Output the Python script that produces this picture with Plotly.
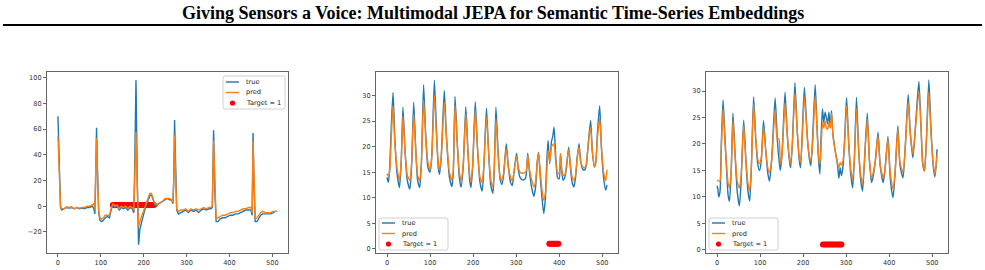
import plotly.graph_objects as go

TITLE = "Giving Sensors a Voice: Multimodal JEPA for Semantic Time-Series Embeddings"

# ---------------- panel 1 (ECG-like) ----------------
ecg_x = [0, 3, 6, 9, 14, 20, 26, 32, 38, 44, 50, 56, 62, 68, 74, 80, 84, 86, 88, 90, 92, 95, 98, 102,
         106, 110, 115, 120, 124, 128, 133, 138, 143, 148, 153, 158, 163, 168, 173, 177, 179, 182, 185,
         188, 191, 195, 200, 205, 210, 214, 218, 222, 226, 230, 235, 240, 245, 250, 255, 260, 265, 268,
         270, 272, 274, 277, 281, 286, 292, 298, 304, 310, 316, 322, 328, 334, 340, 346, 352, 357, 360,
         363, 366, 369, 373, 378, 384, 390, 396, 402, 408, 414, 420, 426, 432, 438, 444, 450, 453, 455,
         457, 460, 464, 468, 473, 478, 484, 490, 496, 502, 507, 511]
ecg_true = [70, 20, -1, -3, -2, -1, -1.5, -1, -2, -1, -2, -1.5, -2, -1, -1, 0, -2, -6, 20, 61, 30, -5, -11, -12,
            -11, -9, -8, -9, -3, 1, -1, 0, -3, -1, -2, -1, -3, -1, -2, -5, 30, 98, 20,
            -30, -18, -12, -6, 0, 5, 8, 9, 5, 1, 0, 2, 3, 4, 5, 6, 5, 5, 2,
            20, 67, 30, -3, -6, -5, -4, -3, -5, -3, -4, -3, -5, -3, -2, -3, -2, -2, -1,
            59, 10, -12, -12, -10, -9, -9, -8, -7, -7, -6, -6, -5, -4, -3, -3, -3, -7, 57,
            20, -12, -12, -10, -7, -6, -6, -6, -6, -5, -4, -4]
ecg_pred = [54, 18, 0, -2, -2, -0.5, -1, -0.5, -2, -1, -1.5, -1, -1, 0, 0, 1, 2, -2, 18, 53, 28, -3, -9, -10,
            -9, -7, -7, -7, -2, 2, 0, 1, -2, 0, -1, 0, -2, 0, -1, -3, 20, 58, 15,
            -16, -12, -8, -3, 2, 7, 10, 10, 6, 2, 1, 2, 3, 4, 6, 6, 6, 5, 3,
            18, 55, 25, -2, -4, -3, -3, -2, -4, -2, -3, -2, -3, -2, -1, -2, -1, -1, 0,
            51, 8, -10, -9, -8, -7, -7, -6, -5, -5, -4, -4, -3, -2, -2, -1, -1, -5, 51,
            15, -10, -9, -7, -5, -4, -5, -5, -5, -4, -4, -4]
ecg_target_x = [128, 132, 136, 140, 144, 148, 152, 156, 160, 164, 168, 172, 176, 180, 184, 188, 192,
                196, 200, 204, 208, 212, 216, 220, 224]

# ---------------- panel 2 ----------------
p2_x = [0, 3, 6, 10, 14, 18, 23, 29, 33, 37, 42, 47, 53, 57, 62, 67, 71, 76, 80, 85, 90, 95, 100, 104,
        110, 115, 119, 122, 126, 133, 138, 145, 151, 154, 158, 163, 168, 172, 177, 183, 188, 192, 195,
        199, 205, 210, 216, 221, 225, 231, 236, 241, 246, 249, 253, 258, 263, 267, 271, 277, 282, 287,
        291, 295, 301, 305, 309, 315, 321, 324, 327, 331, 336, 341, 345, 349, 352, 356, 360, 364, 368,
        371, 374, 378, 382, 385, 388, 392, 396, 400, 403, 406, 409, 413, 417, 422, 426, 430, 434, 438,
        442, 446, 450, 455, 460, 463, 468, 473, 477, 482, 485, 489, 494, 498, 503, 508, 511]
p2_true = [14, 13, 15.5, 24, 30.6, 22, 15, 12, 17, 27.7, 19, 13.5, 11.7, 16, 28.7, 19, 13.5, 12, 17, 32.1, 22, 16, 15, 18,
           33, 23, 16, 14.6, 18, 31, 22, 14, 12.2, 15, 29.8, 21, 14, 12.1, 16, 27.8, 19, 13.5, 12,
           16, 28.8, 20, 13, 11.3, 16, 27.5, 19, 12.5, 10.9, 15, 27.7, 19, 13.5, 12.6, 14.5, 20.6, 16, 13,
           12.4, 15, 18.7, 15.5, 14, 13.5, 13.7, 15, 18.7, 15, 12, 10.3, 12, 17, 18.9, 14, 10, 6.9, 10,
           17, 21.2, 16.7, 21, 22, 23.8, 18, 14, 13.7, 18.6, 15, 13.4, 14, 16, 19.9, 16, 13, 12.1, 14,
           18, 20.6, 17, 15.5, 15.5, 16.5, 21, 25.1, 19, 16, 17, 23, 28, 20, 14, 11.5, 12.5]
p2_pred = [14.7, 14.2, 15, 22, 28, 21, 16, 13.4, 17, 25.9, 19, 14.5, 13.4, 16.5, 26.4, 19, 14.5, 13.3, 17, 29.1, 22, 17, 15.5, 18,
           30, 22, 17, 15.4, 18, 28.7, 22, 15, 13.4, 15.5, 28, 21, 15, 13.4, 16.5, 26.4, 19, 14.5, 13,
           16.5, 27.1, 20, 14, 13, 16.5, 25.8, 19, 13.5, 12.1, 15.5, 25.4, 18.5, 14, 13.4, 15, 19.6, 16, 14,
           13.3, 15, 18.1, 16, 15, 14.8, 15, 15.5, 18.3, 15.5, 13.5, 12.1, 13, 17, 18.7, 15, 11.5, 9.5, 11,
           15, 19.3, 17, 20, 20.3, 20.6, 17, 15, 14.7, 18.6, 15.5, 14.4, 14.5, 16.5, 19.4, 16.5, 14, 13.4, 14.5,
           18, 19.9, 17, 16, 15.9, 16.5, 21, 23.8, 19, 16, 17, 22, 25.5, 20, 15, 13.3, 15.5]
p2_target_x = [377, 380, 383, 386, 389, 392, 395, 398]

# ---------------- panel 3 ----------------
p3_x = [0, 2, 4, 7, 10, 14, 18, 23, 26, 29, 33, 37, 42, 47, 52, 56, 62, 67, 72, 76, 80, 85, 90, 95,
        99, 103, 108, 113, 118, 122, 127, 135, 140, 144, 147, 151, 158, 163, 168, 171, 175, 181, 186,
        191, 194, 198, 203, 210, 215, 218, 222, 228, 232, 236, 239, 242, 245, 248, 251, 254, 257, 260,
        263, 266, 269, 272, 276, 280, 283, 286, 289, 293, 297, 301, 306, 311, 315, 319, 324, 329, 334,
        338, 342, 349, 354, 359, 363, 368, 374, 379, 386, 390, 397, 402, 406, 409, 414, 420, 425, 432,
        437, 444, 449, 455, 459, 464, 469, 474, 478, 482, 486, 492, 497, 502, 506, 509, 511]
p3_true = [12.1, 11.5, 10, 11, 20, 28.3, 22, 14, 10.2, 9.2, 15, 25.8, 18, 11, 8.3, 13, 24.5, 17, 11, 9.2, 16, 28.9, 21, 16,
           15, 17, 24.4, 19, 14.5, 13, 17, 28.7, 21, 17, 15, 18, 29.8, 22, 17, 15.5, 20, 31.6, 23,
           17, 15.5, 22, 30.7, 21, 17, 15.9, 21, 31.2, 24, 17, 14.3, 22, 26.6, 24, 26, 25, 23.8, 26,
           23.1, 26.3, 22, 20, 18, 16, 13.5, 15.5, 14, 16, 22, 28.8, 20, 14, 11.7, 17, 28.8, 19, 13,
           11.1, 16, 25.8, 17, 12.7, 14, 17, 22.2, 16, 12.7, 15, 21.4, 14, 11, 9.9, 15, 23.4, 16, 13.6,
           19, 29.3, 22, 17.4, 21, 27, 31.8, 23, 16, 14.9, 20, 32.1, 23, 16, 13.8, 16, 19]
p3_pred = [13.1, 13.1, 13, 13, 19, 26.6, 21, 15, 12.5, 11.7, 15, 24.4, 18, 13, 11.7, 14, 23.4, 17, 12.5, 11.1, 16, 27.5, 21, 17,
           16.3, 17.5, 23.1, 19, 15.5, 14.6, 17, 26.4, 21, 21, 16.2, 18, 27.7, 22, 17.5, 16.2, 20, 29.6, 23,
           17.5, 16.5, 21, 28.9, 21, 17.5, 16.8, 20, 29.1, 23.5, 17.5, 16.2, 20, 24, 23, 24.4, 23, 22.8, 24,
           23, 25.8, 22, 20, 18, 16.5, 15.5, 16.5, 16, 17, 21, 27.2, 20, 15, 13.3, 17, 26.6, 19, 14,
           12.4, 16, 24.7, 17, 13.6, 14.6, 17, 21.5, 16, 13.6, 15, 20.9, 15, 12.5, 11.4, 15, 22.8, 16.5, 14.6,
           19, 27.9, 22, 18.1, 21, 26, 29.8, 23, 16.5, 14.9, 20, 29.8, 22, 16.5, 14.3, 16, 18]
p3_target_x = [246, 250, 254, 258, 262, 266, 270, 274, 278, 282, 286, 289]

TARGET_LEVEL = 1
LEGEND_LABELS = ["true", "pred", "Target = 1"]

TRUE_COLOR = "#1f77b4"
PRED_COLOR = "#ff7f0e"
TARGET_COLOR = "red"
LW = 1.4

fig = go.Figure()

panels = [
    (ecg_x, ecg_true, ecg_pred, ecg_target_x, "linear"),
    (p2_x, p2_true, p2_pred, p2_target_x, "spline"),
    (p3_x, p3_true, p3_pred, p3_target_x, "spline"),
]

for i, (x, t, p, tx, shape) in enumerate(panels, start=1):
    xa = "x" if i == 1 else f"x{i}"
    ya = "y" if i == 1 else f"y{i}"
    fig.add_trace(go.Scatter(x=tx, y=[TARGET_LEVEL] * len(tx), mode="markers",
                             marker=dict(color=TARGET_COLOR, size=6, line=dict(width=0)),
                             name=LEGEND_LABELS[2], xaxis=xa, yaxis=ya, showlegend=False))
    fig.add_trace(go.Scatter(x=x, y=t, mode="lines",
                             line=dict(color=TRUE_COLOR, width=LW, shape=shape, smoothing=0.6),
                             name=LEGEND_LABELS[0], xaxis=xa, yaxis=ya, showlegend=False))
    fig.add_trace(go.Scatter(x=x, y=p, mode="lines",
                             line=dict(color=PRED_COLOR, width=LW, shape=shape, smoothing=0.6),
                             name=LEGEND_LABELS[1], xaxis=xa, yaxis=ya, showlegend=False))

W, H = 985, 270
def px_x(v):
    return v / W
def px_y(v):
    return 1 - v / H

x_domains = [(47, 288), (376, 618), (706, 948)]
y_dom = (px_y(253), px_y(72))
y_ranges = [(-36.4, 104.4), (-0.8, 34.6), (-0.6, 33.6)]
y_ticks = [[-20, 0, 20, 40, 60, 80, 100], [0, 5, 10, 15, 20, 25, 30], [0, 5, 10, 15, 20, 25, 30]]

axis_common = dict(showline=True, linecolor="#666", linewidth=1, mirror=True,
                   ticks="outside", ticklen=3, tickcolor="#666", tickwidth=1,
                   showgrid=False, zeroline=False,
                   tickfont=dict(family="DejaVu Sans", size=6.6, color="#333"))

layout = dict(width=W, height=H, margin=dict(l=0, r=0, t=0, b=0),
              paper_bgcolor="white", plot_bgcolor="white", showlegend=False)

for i in range(1, 4):
    xk = "xaxis" if i == 1 else f"xaxis{i}"
    yk = "yaxis" if i == 1 else f"yaxis{i}"
    ya = "y" if i == 1 else f"y{i}"
    xa = "x" if i == 1 else f"x{i}"
    layout[xk] = dict(domain=[px_x(x_domains[i-1][0]), px_x(x_domains[i-1][1])], anchor=ya,
                      range=[-25.55, 536.55], tickvals=[0, 100, 200, 300, 400, 500], **axis_common)
    layout[yk] = dict(domain=list(y_dom), anchor=xa, range=list(y_ranges[i-1]),
                      tickvals=y_ticks[i-1], **axis_common)

fig.update_layout(**layout)


# ---- matplotlib-style legend boxes (built from shapes + text) ----
def add_legend(left, top, width, height, handle_x0, text_x, row_ys):
    r = 2.0
    l, t, rr, b = left, top, left + width, top + height
    def P(xp, yp):
        return f"{px_x(xp):.6f},{px_y(yp):.6f}"
    path = (f"M {P(l + r, t)} L {P(rr - r, t)} Q {P(rr, t)} {P(rr, t + r)} "
            f"L {P(rr, b - r)} Q {P(rr, b)} {P(rr - r, b)} L {P(l + r, b)} "
            f"Q {P(l, b)} {P(l, b - r)} L {P(l, t + r)} Q {P(l, t)} {P(l + r, t)} Z")
    fig.add_shape(type="path", path=path, xref="paper", yref="paper",
                  fillcolor="rgba(255,255,255,0.8)", line=dict(color="#d0d0d0", width=1))
    handle_len = 13
    colors = [TRUE_COLOR, PRED_COLOR]
    for k in range(2):
        fig.add_shape(type="line", xref="paper", yref="paper",
                      x0=px_x(handle_x0), x1=px_x(handle_x0 + handle_len),
                      y0=px_y(row_ys[k]), y1=px_y(row_ys[k]),
                      line=dict(color=colors[k], width=LW))
    cx, cy, rad = handle_x0 + handle_len / 2, row_ys[2], 2.6
    fig.add_shape(type="circle", xref="paper", yref="paper",
                  x0=px_x(cx - rad), x1=px_x(cx + rad), y0=px_y(cy + rad), y1=px_y(cy - rad),
                  fillcolor=TARGET_COLOR, line=dict(width=0))
    for k in range(3):
        fig.add_annotation(text=LEGEND_LABELS[k], xref="paper", yref="paper",
                           x=px_x(text_x), y=px_y(row_ys[k]), xanchor="left", yanchor="middle",
                           showarrow=False, font=dict(family="DejaVu Sans", size=6.6, color="#222"))


add_legend(223, 76, 62, 33, 226, 244, [82, 92.5, 103])
add_legend(379, 218, 69, 32, 382, 400, [223, 233.5, 244])
add_legend(709, 218, 69, 32, 712, 730, [223, 233.5, 244])

fig.add_annotation(text="<b>" + TITLE + "</b>", xref="paper", yref="paper", x=0.5, y=px_y(13),
                   xanchor="center", yanchor="middle", showarrow=False,
                   font=dict(family="Liberation Serif", size=18, color="black"))
fig.add_shape(type="line", xref="paper", yref="paper", x0=px_x(3), x1=px_x(982),
              y0=px_y(25), y1=px_y(25), line=dict(color="black", width=2))

fig.write_html("out.html")
